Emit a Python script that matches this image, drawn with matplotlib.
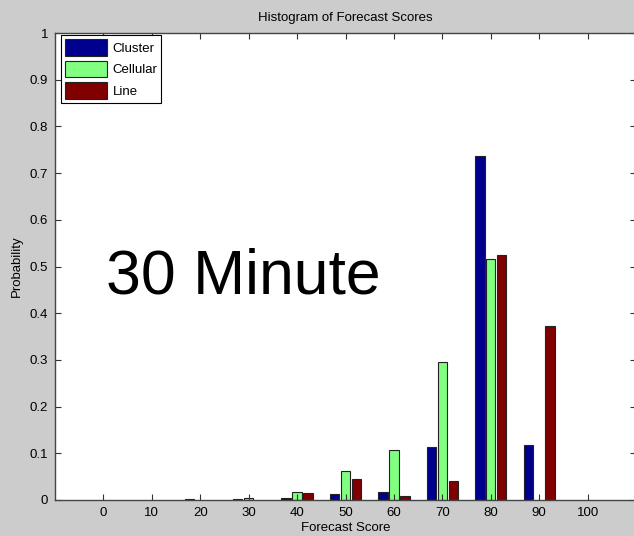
import matplotlib
matplotlib.use("Agg")
import matplotlib.pyplot as plt
import numpy as np

plt.rcParams['font.family'] = ['Liberation Sans', 'DejaVu Sans']

# histogram bins (forecast score centres)
scores = [0, 10, 20, 30, 40, 50, 60, 70, 80, 90, 100]
cluster = [0, 0, 0.002, 0.002, 0.004, 0.013, 0.018, 0.113, 0.737, 0.117, 0]
cellular = [0, 0, 0, 0.004, 0.018, 0.062, 0.107, 0.296, 0.515, 0, 0]
line = [0, 0, 0, 0, 0.015, 0.045, 0.009, 0.040, 0.524, 0.372, 0]

series_names = ['Cluster', 'Cellular', 'Line']
series_colors = ['#00008f', '#80ff80', '#800000']

fig = plt.figure(figsize=(6.34, 5.36), dpi=100, facecolor='#cccccc')
ax = fig.add_axes([55/634, 36/536, 581/634, 467/536])

x = np.array(scores, dtype=float)
off = 2.25
w = 1.95
for i, (vals, name, col) in enumerate(zip([cluster, cellular, line], series_names, series_colors)):
    v = np.array(vals)
    m = v > 0
    ax.bar(x[m] + (i - 1) * off, v[m], width=w, color=col, edgecolor='#222222',
           linewidth=0.8, label=name)

ax.set_xlim(-10, 110)
ax.set_ylim(0, 1)
ax.set_xticks(scores)
ax.set_yticks(np.round(np.arange(0, 1.01, 0.1), 1))
ax.set_yticklabels(['0', '0.1', '0.2', '0.3', '0.4', '0.5', '0.6', '0.7', '0.8', '0.9', '1'])
ax.tick_params(direction='in', length=4, top=True, right=True, labelsize=9.5,
               color='#333333', pad=5)
for s in ax.spines.values():
    s.set_color('#444444')
    s.set_linewidth(1.0)

ax.set_title('Histogram of Forecast Scores', fontsize=9.5, pad=9)
ax.set_xlabel('Forecast Score', fontsize=9.5, labelpad=2.5)
ax.set_ylabel('Probability', fontsize=9.5, labelpad=5)

leg = ax.legend(loc='upper left', bbox_to_anchor=(6/581, 1 - 2/467), fontsize=9.5,
                fancybox=False, framealpha=1, edgecolor='black',
                handlelength=3.2, handleheight=1.6, borderaxespad=0,
                labelspacing=0.35, handletextpad=0.4, borderpad=0.3)
leg.get_frame().set_linewidth(0.8)

ax.text(51/581, 207/467, '30 Minute', fontsize=45, transform=ax.transAxes,
        ha='left', va='baseline', color='black')

fig.savefig('out.png', dpi=100, facecolor=fig.get_facecolor())
